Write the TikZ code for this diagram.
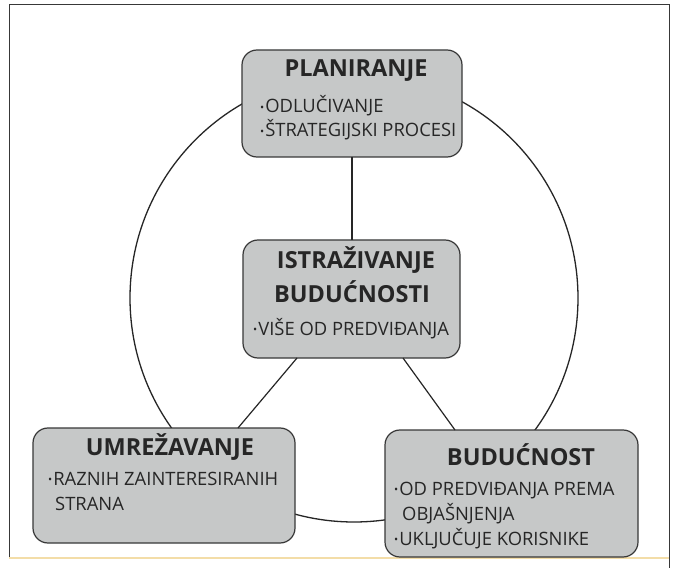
\documentclass[tikz,border=0pt]{standalone}
\usepackage{fontspec}
\setmainfont{Open Sans}
\definecolor{boxfill}{HTML}{C6C8C8}
\definecolor{boxline}{HTML}{383838}
\definecolor{ink}{HTML}{262626}
\definecolor{edgeyellow}{HTML}{F3DDA8}
\newcommand\bul{{\fontsize{11}{11}\selectfont\raisebox{0.25ex}{•}}\hspace{1pt}}
\tikzset{
  panel/.style={draw=boxline, line width=1.2pt, fill=boxfill, rounded corners=15pt,
    rectangle, inner sep=0pt, outer sep=0pt},
  ttl/.style={text=ink, font=\fontsize{23.5}{23.5}\selectfont\bfseries, inner sep=0pt, anchor=base},
  itm/.style={text=ink, font=\fontsize{18.4}{18.4}\selectfont, inner sep=0pt, anchor=base west},
  link/.style={draw=ink, line width=1.2pt},
}
\begin{document}
\begin{tikzpicture}[x=1pt,y=-1pt]
\useasboundingbox (0,0) rectangle (673,575);
\fill[white] (0,0) rectangle (673,575);
% frame
\draw[boxline, line width=1pt] (9,557) -- (9,5) -- (669,5) -- (669,568);
\draw[edgeyellow, line width=1.5pt] (9,558) -- (669,558);
% ring
\node[circle, draw=ink, line width=1.3pt, minimum size=448pt, inner sep=0pt] (ring) at (354,298) {};
% boxes
\node[panel, minimum width=220pt, minimum height=107pt] (plan) at (352,103.5) {};
\node[panel, minimum width=217pt, minimum height=118pt] (ist) at (351.5,299) {};
\node[panel, minimum width=262pt, minimum height=115pt] (umr) at (164,485.5) {};
\node[panel, minimum width=253pt, minimum height=127pt] (bud) at (511.5,493.5) {};
% connectors
\draw[link] (plan.south) -- (plan.south |- ist.north);
\draw[link] ([xshift=-54.5pt]ist.south) -- ([xshift=74pt]umr.north);
\draw[link] ([xshift=51.5pt]ist.south) -- ([xshift=-56.5pt]bud.north);
% texts
\node[ttl] (t1) at (356,77) {PLANIRANJE};
\node[ttl] (t2a) at (356,269) {ISTRAŽIVANJE};
\node[ttl] (t2b) at (352,302) {BUDUĆNOSTI};
\node[ttl] (t3) at (170,455) {UMREŽAVANJE};
\node[ttl] (t4) at (521,465) {BUDUĆNOST};
\node[itm] (p1) at (260,112.5) {\bul ODLUČIVANJE};
\node[itm] (p2) at (260,136.5) {\bul ŠTRATEGIJSKI PROCESI};
\node[itm] (i1) at (253,335) {\bul VIŠE OD PREDVIĐANJA};
\node[itm] (u1) at (48,485) {\bul RAZNIH ZAINTERESIRANIH};
\node[itm] (u2) at (55,510) {STRANA};
\node[itm] (b1) at (394,495) {\bul OD PREDVIĐANJA PREMA};
\node[itm] (b2) at (402,520) {OBJAŠNJENJA};
\node[itm] (b3) at (394,545) {\bul UKLJUČUJE KORISNIKE};
\end{tikzpicture}
\end{document}
